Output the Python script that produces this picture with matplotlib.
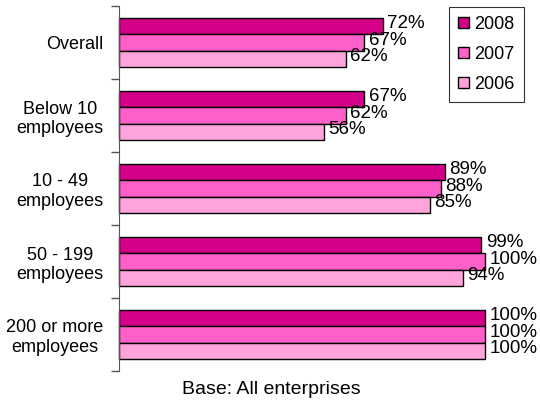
import matplotlib
matplotlib.use("Agg")
import matplotlib.pyplot as plt
import numpy as np

plt.rcParams["font.family"] = ["Liberation Sans", "DejaVu Sans"]

categories = ["Overall", "Below 10\nemployees", "10 - 49\nemployees",
              "50 - 199\nemployees", "200 or more\nemployees"]
years = ["2008", "2007", "2006"]
values_2008 = [72, 67, 89, 99, 100]
values_2007 = [67, 62, 88, 100, 100]
values_2006 = [62, 56, 85, 94, 100]
colors = ["#D5008A", "#FF5FC8", "#FFA3DC"]

fig = plt.figure(figsize=(5.4, 4.04), dpi=100)
ax = fig.add_axes([119 / 540, 1 - 371 / 404, 366 / 540, 365 / 404])

n = len(categories)
y = np.arange(n)
bar_h = 0.2236
series = [values_2008, values_2007, values_2006]
for k, (vals, year, col) in enumerate(zip(series, years, colors)):
    pos = y - bar_h + k * bar_h
    ax.barh(pos, vals, height=bar_h, color=col, edgecolor="black",
            linewidth=1.0, label=year, clip_on=False)
    for p, v in zip(pos, vals):
        ax.text(v + 1.2, p - 0.03, f"{v}%", va="center", ha="left",
                fontsize=13.5, color="black")

ax.set_xlim(0, 100)
ax.set_ylim(n - 0.5, -0.5)
ax.set_yticks(y)
ax.set_yticklabels(categories, fontsize=13, multialignment="center")
ax.tick_params(axis="y", length=0, pad=11)
ax.set_yticks(np.arange(n + 1) - 0.5, minor=True)
ax.tick_params(axis="y", which="minor", length=6, width=1, color="#555555")
ax.set_xticks([])
for s in ["top", "right", "bottom"]:
    ax.spines[s].set_visible(False)
ax.spines["left"].set_color("#555555")

leg = ax.legend(loc="upper left", bbox_to_anchor=(449 / 540, 1 - 7 / 404),
                bbox_transform=fig.transFigure, fontsize=13, frameon=True,
                fancybox=False, edgecolor="black", handlelength=0.6,
                handleheight=0.6, handletextpad=0.3, labelspacing=0.71,
                borderpad=0.5, borderaxespad=0)
leg.get_frame().set_linewidth(0.8)

fig.text(0.502, 1 - 389 / 404, "Base: All enterprises", ha="center",
         va="center", fontsize=14)

fig.savefig("out.png", dpi=100)
